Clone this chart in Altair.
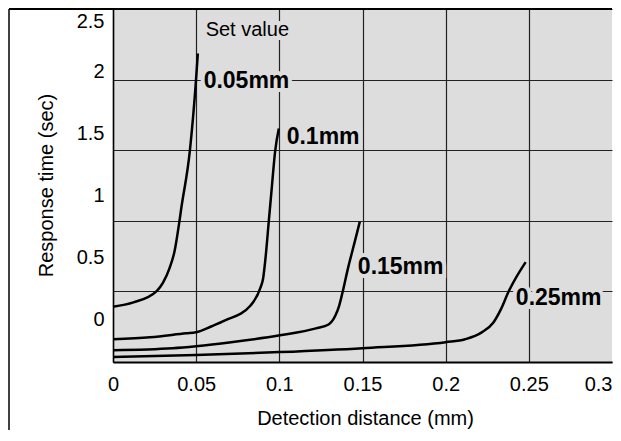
import altair as alt
import pandas as pd

# ---- data ----
x_005 = [0, 0.0123, 0.0264, 0.030, 0.034, 0.037, 0.0399, 0.041, 0.0463, 0.0499, 0.051]
t_005 = [0.392, 0.422, 0.504, 0.56, 0.665, 0.784, 0.994, 1.085, 1.506, 1.996, 2.185]
x_010 = [0, 0.0223, 0.044, 0.0499, 0.0594, 0.0674, 0.0827, 0.0886, 0.0903, 0.0915, 0.0938, 0.0956, 0.0974, 0.0997]
t_010 = [0.161, 0.175, 0.203, 0.21, 0.253, 0.294, 0.40, 0.525, 0.595, 0.714, 1.015, 1.253, 1.485, 1.653]
x_015 = [0, 0.0358, 0.0499, 0.071, 0.1003, 0.122, 0.1296, 0.1337, 0.136, 0.1378, 0.1413, 0.1454, 0.1484]
t_015 = [0.084, 0.098, 0.112, 0.14, 0.189, 0.238, 0.266, 0.329, 0.40, 0.483, 0.665, 0.854, 0.994]
x_025 = [0, 0.0499, 0.1003, 0.150, 0.200, 0.2117, 0.2217, 0.2287, 0.2334, 0.2375, 0.2422, 0.2481]
t_025 = [0.035, 0.049, 0.07, 0.098, 0.14, 0.161, 0.21, 0.28, 0.378, 0.49, 0.595, 0.707]
series_names = ["0.05mm", "0.1mm", "0.15mm", "0.25mm"]

ann_text = ["Set value", "0.05mm", "0.1mm", "0.15mm", "0.25mm"]
ann_x = [0.0557, 0.0545, 0.1044, 0.1472, 0.2422]
ann_y = [2.353, 1.989, 1.597, 0.672, 0.455]
ann_weight = ["normal", "bold", "bold", "bold", "bold"]

x_ticks = [0, 0.05, 0.1, 0.15, 0.2, 0.25, 0.3]
y_ticks = [0, 0.5, 1, 1.5, 2, 2.5]
y_label_domain = [-0.338, 2.5]

x_title = "Detection distance (mm)"
y_title = "Response time (sec)"

# ---- build tables ----
rows = []
for name, xs, ts in zip(series_names, [x_005, x_010, x_015, x_025], [t_005, t_010, t_015, t_025]):
    for a, b in zip(xs, ts):
        rows.append({"series": name, "x": a, "t": b})
curves = pd.DataFrame(rows)
ann = pd.DataFrame({"label": ann_text, "x": ann_x, "y": ann_y, "w": ann_weight})
ylab = pd.DataFrame({"v": y_ticks})

W, H = 499, 353
FONT = "Liberation Sans"
BG = "#dddddd"
GRID = "#222222"

xscale = alt.Scale(domain=[0, 0.3], nice=False)
yscale = alt.Scale(domain=[0, 2.5], nice=False)

x_axis = alt.Axis(
    values=x_ticks, format="~g", grid=True, gridColor=GRID, gridWidth=1.2,
    gridOpacity={"condition": {"test": "datum.value > 0.29", "value": 0}, "value": 1},
    labelAlign={"condition": {"test": "datum.value > 0.29", "value": "right"}, "value": "center"},
    ticks=False, tickSize=0, labelPadding=12, domainColor="black", domainWidth=2,
    labelFontSize=20, labelColor="black", labelOverlap=False,
    title=x_title, titleFontSize=20, titleFontWeight="normal", titleColor="black",
    titleX=252, titleY=56, titleBaseline="middle", titleAlign="center",
)
y_grid_axis = alt.Axis(
    values=y_ticks, orient="right", grid=True, gridColor=GRID, gridWidth=1.2,
    labels=False, ticks=False, domain=False, title=None, minExtent=0, maxExtent=0,
)

X = alt.X("x:Q", scale=xscale, axis=x_axis)

lines = alt.Chart(curves).mark_line(color="black", strokeWidth=2.5, interpolate="monotone").encode(
    x=X,
    y=alt.Y("t:Q", scale=yscale, axis=y_grid_axis),
    detail="series:N",
)

def text_layer(weight, size, halo):
    props = dict(align="left", baseline="middle", fontSize=size, fontWeight=weight)
    if halo:
        props.update(color=BG, stroke=BG, strokeWidth=8, strokeJoin="miter")
    else:
        props.update(color="black")
    return alt.Chart(ann).transform_filter(alt.datum.w == weight).mark_text(**props).encode(
        x=X,
        y=alt.Y("y:Q", scale=yscale, axis=y_grid_axis),
        text="label:N",
    )

one = alt.Data(values=[{"k": 1}])
frame_top = alt.Chart(one).mark_rule(color="black", strokeWidth=2).encode(
    x=alt.value(-104), x2=alt.value(W), y=alt.value(0)
)
frame_left = alt.Chart(one).mark_rule(color="black", strokeWidth=1.5).encode(
    x=alt.value(-104), y=alt.value(0), y2=alt.value(421)
)

base = alt.layer(
    text_layer("normal", 20, True),
    text_layer("bold", 23, True),
    lines,
    text_layer("normal", 20, False),
    text_layer("bold", 23, False),
    frame_top,
    frame_left,
)

ylabels = alt.Chart(ylab).mark_point(size=1, opacity=0).encode(
    y=alt.Y("v:Q", scale=alt.Scale(domain=y_label_domain, nice=False, zero=False),
            axis=alt.Axis(values=y_ticks, format="~g", orient="left", grid=False, ticks=False, tickSize=0,
                          labelPadding=9, labelFontSize=20, labelColor="black", labelFlush=8,
                          labelFlushOffset=-2, labelOverlap=False, domain=True, domainColor="black",
                          domainWidth=1.5, title=y_title, titleFontSize=20, titleFontWeight="normal",
                          titleColor="black", titleX=-67, titleY=176, titleBaseline="middle",
                          titleAlign="center"))
)

chart = alt.layer(base, ylabels).resolve_scale(y="independent").properties(
    width=W, height=H, padding=0
).configure_view(fill=BG, stroke=None).configure_axis(
    labelFont=FONT, titleFont=FONT
).configure_text(font=FONT)

chart.save("out.html", embed_options={"renderer": "svg", "actions": False})
